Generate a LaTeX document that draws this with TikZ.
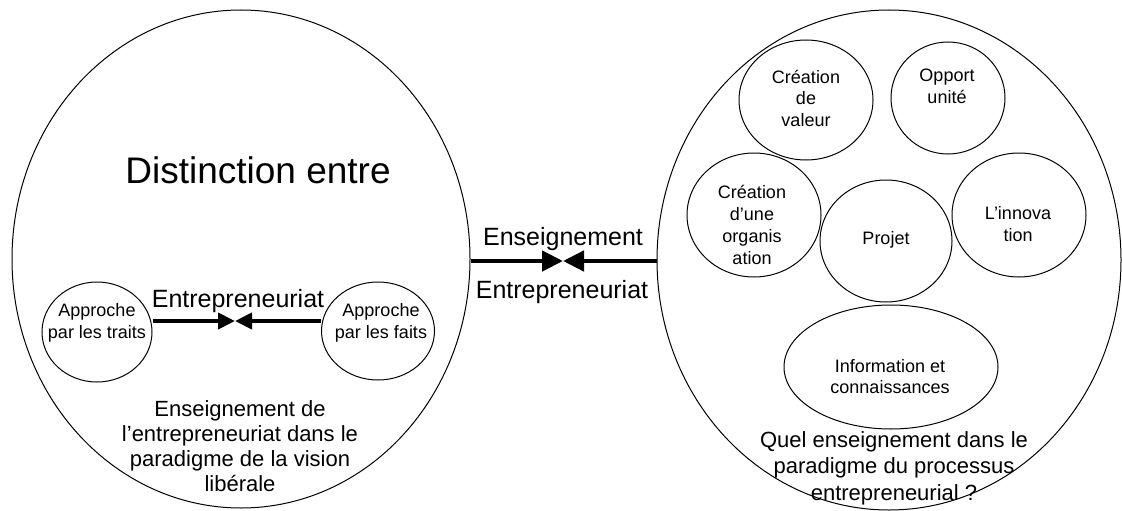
\documentclass[tikz,border=0pt]{standalone}
\usepackage{fontspec}
\setmainfont{Liberation Sans}
\usetikzlibrary{shapes.geometric,arrows.meta}
\begin{document}
\begin{tikzpicture}[x=1pt,y=-1pt,
  ell/.style={draw, ellipse, line width=1pt, inner sep=0pt},
  txt/.style={align=center, inner sep=0pt},
  small/.style={txt, font=\fontsize{18}{22}\selectfont},
  caption/.style={txt, font=\fontsize{22}{25}\selectfont},
  mid/.style={txt, font=\fontsize{25}{30}\selectfont, anchor=base},
  arrA/.style={line width=4pt, -{Triangle[length=17pt,width=16pt]}},
  arrB/.style={line width=4.5pt, -{Triangle[length=21pt,width=20pt]}},
]
\useasboundingbox (0,0) rectangle (1122,511);

% big ellipses
\node[ell, minimum width=458pt, minimum height=498pt] (L) at (241,259) {};
\node[ell, minimum width=464pt, minimum height=500pt] (R) at (889,260) {};

% left inner circles
\node[ell, minimum width=110pt, minimum height=100pt] (tr) at (97,332) {};
\node[ell, minimum width=113pt, minimum height=98pt] (fa) at (378,331) {};

% right inner circles
\node[ell, minimum width=134pt, minimum height=120pt] (cv) at (806,100) {};
\node[ell, minimum width=114pt, minimum height=112pt] (op) at (948,98) {};
\node[ell, minimum width=134pt, minimum height=124pt] (co) at (754,215) {};
\node[ell, minimum width=132pt, minimum height=122pt] (pj) at (886,241) {};
\node[ell, minimum width=134pt, minimum height=124pt] (in) at (1019,215) {};
\node[ell, minimum width=214pt, minimum height=124pt] (ic) at (891,367) {};

% texts
\node[txt, font=\fontsize{37}{44}\selectfont, anchor=base] (dist) at (258,183) {Distinction entre};
\node[mid] (ent1) at (238,307) {Entrepreneuriat};
\node[mid] (ens) at (563,245) {Enseignement};
\node[mid] (ent2) at (562,298) {Entrepreneuriat};

\node[small] (ttr) at (97,323) {Approche\\par les traits};
\node[small] (tfa) at (381,323) {Approche\\par les faits};
\node[small, font=\fontsize{18}{21.5}\selectfont] (tcv) at (806,98) {Création\\de\\valeur};
\node[small] (top) at (947,86) {Opport\\unité};
\node[small] (tco) at (752,225) {Création\\d’une\\organis\\ation};
\node[small] (tpj) at (886,240) {Projet};
\node[small] (tin) at (1018,224) {L’innova\\tion};
\node[small, font=\fontsize{18}{21}\selectfont] (tic) at (890,377) {Information et\\connaissances};

\node[caption] (capL) at (240,446) {Enseignement de\\l’entrepreneuriat dans le\\paradigme de la vision\\libérale};
\node[caption, font=\fontsize{22}{26.5}\selectfont] (capR) at (894,468) {Quel enseignement dans le\\paradigme du processus\\entrepreneurial ?};

% arrows
\coordinate (m1) at (235,321);
\coordinate (m2) at (563,261);
\draw[arrA] (tr.east |- m1) -- (m1);
\draw[arrA] (fa.west |- m1) -- (m1);
\draw[arrB] (L.east |- m2) -- (m2);
\draw[arrB] (R.west |- m2) -- (m2);
\end{tikzpicture}
\end{document}
